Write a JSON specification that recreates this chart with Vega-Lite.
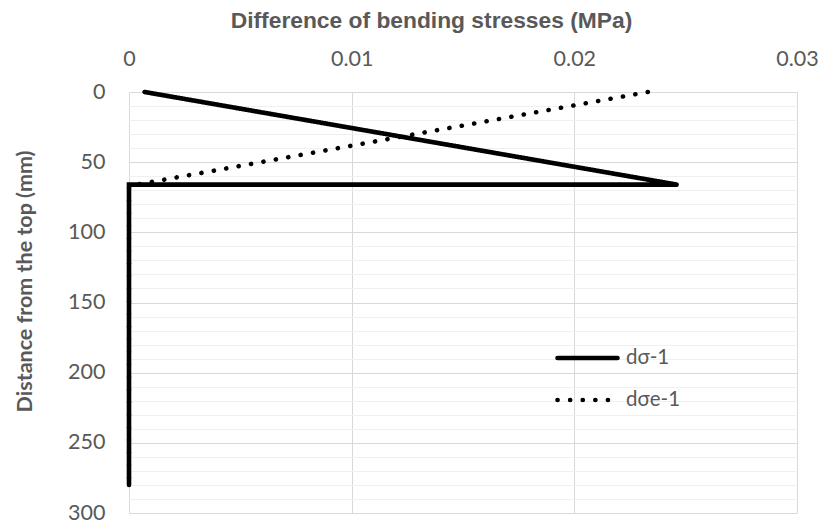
{
  "$schema": "https://vega.github.io/schema/vega-lite/v6.json",
  "width": 668,
  "height": 421,
  "autosize": "none",
  "padding": {"left": 129, "top": 92, "right": 22, "bottom": 12},
  "background": "white",
  "config": {"view": {"stroke": null}},
  "data": {
    "values": [
      {"series": "dσ-1", "ord": 1, "stress": 0.0007, "depth": 0},
      {"series": "dσ-1", "ord": 2, "stress": 0.0246, "depth": 66},
      {"series": "dσ-1", "ord": 3, "stress": 0.0, "depth": 66},
      {"series": "dσ-1", "ord": 4, "stress": 0.0, "depth": 280},
      {"series": "dσe-1", "ord": 1, "stress": 0.0233, "depth": 0},
      {"series": "dσe-1", "ord": 2, "stress": 0.0, "depth": 67},
      {"series": "dσe-1", "ord": 3, "stress": 0.0, "depth": 280}
    ]
  },
  "mark": {"type": "line", "strokeWidth": 4.6, "strokeCap": "round", "color": "black"},
  "encoding": {
    "x": {
      "field": "stress",
      "type": "quantitative",
      "scale": {"domain": [0, 0.03], "nice": false, "zero": false},
      "axis": {
        "orient": "top",
        "values": [0, 0.01, 0.02, 0.03],
        "labelExpr": "datum.value === 0 ? '0' : format(datum.value, '.2f')",
        "title": "Difference of bending stresses (MPa)",
        "titleFont": "Liberation Sans",
        "titleFontSize": 22.8,
        "titleFontWeight": "bold",
        "titleColor": "#595959",
        "titleX": 302,
        "titleY": -72,
        "titleBaseline": "middle",
        "titleAlign": "center",
        "labelFont": "Lato",
        "labelFontSize": 21.5,
        "labelColor": "#595959",
        "labelPadding": 22,
        "labelFlush": false,
        "ticks": false,
        "tickSize": 0,
        "domain": false,
        "grid": true,
        "gridColor": "#d9d9d9",
        "gridWidth": 1
      }
    },
    "y": {
      "field": "depth",
      "type": "quantitative",
      "scale": {"domain": [0, 300], "reverse": true, "nice": false, "zero": false},
      "axis": {
        "values": [0, 10, 20, 30, 40, 50, 60, 70, 80, 90, 100, 110, 120, 130, 140, 150, 160, 170, 180, 190, 200, 210, 220, 230, 240, 250, 260, 270, 280, 290, 300],
        "labelExpr": "datum.value % 50 === 0 ? datum.label : ''",
        "gridColor": {"condition": {"test": "datum.value % 50 === 0", "value": "#d9d9d9"}, "value": "#f0f0f0"},
        "title": "Distance from the top (mm)",
        "titleFont": "Lato",
        "titleFontSize": 21.5,
        "titleFontWeight": "bold",
        "titleColor": "#595959",
        "titleX": -104,
        "titleY": 189,
        "titleBaseline": "middle",
        "titleAlign": "center",
        "labelFont": "Lato",
        "labelFontSize": 21.5,
        "labelColor": "#595959",
        "labelPadding": 24,
        "labelFlush": false,
        "ticks": false,
        "tickSize": 0,
        "domain": false,
        "grid": true
      }
    },
    "strokeDash": {
      "field": "series",
      "type": "nominal",
      "scale": {"domain": ["dσ-1", "dσe-1"], "range": [[1, 0], [0.1, 12.5]]},
      "legend": {
        "title": null,
        "orient": "none",
        "legendX": 426,
        "legendY": 251,
        "symbolType": "stroke",
        "symbolStrokeWidth": 4.6,
        "symbolSize": 3600,
        "symbolStrokeColor": "black",
        "labelFont": "Lato",
        "labelFontSize": 20.5,
        "labelColor": "#595959",
        "labelOffset": 6,
        "clipHeight": 30,
        "rowPadding": 12,
        "encode": {"symbols": {"update": {"strokeCap": {"value": "round"}}}}
      }
    },
    "order": {"field": "ord", "type": "quantitative"}
  }
}
